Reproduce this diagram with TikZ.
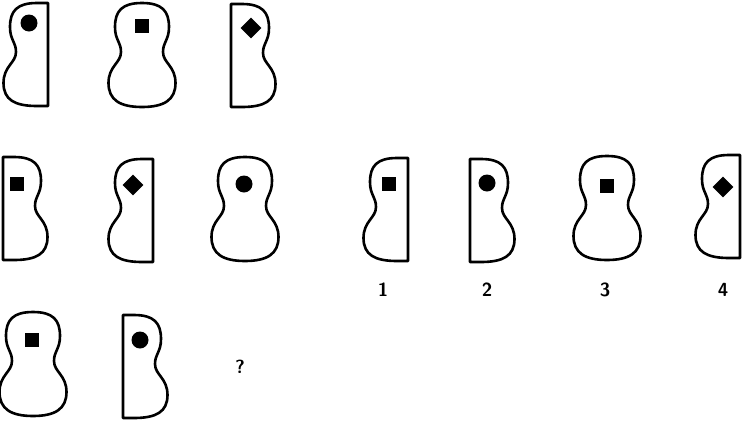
\documentclass[tikz,border=0pt]{standalone}
\usetikzlibrary{shapes.geometric}

\tikzset{
  outline/.style={line width=2.6pt, line join=round},
  dot/.style={circle, fill, inner sep=0pt, minimum size=17pt},
  box/.style={rectangle, fill, inner sep=0pt, minimum size=14pt},
  rhomb/.style={diamond, fill, inner sep=0pt, minimum size=21pt},
  lbl/.style={font=\fontsize{19}{19}\selectfont\sffamily\bfseries, inner sep=0pt},
  gourd/.pic={
    \draw[outline] (0,0) .. controls (20,0) and (27,8) .. (27,24)
      .. controls (27,37) and (21,39) .. (21,49)
      .. controls (21,60) and (33.5,63) .. (33.5,80)
      .. controls (33.5,97) and (22,104) .. (0,104)
      .. controls (-22,104) and (-33.5,97) .. (-33.5,80)
      .. controls (-33.5,63) and (-21,60) .. (-21,49)
      .. controls (-21,39) and (-27,37) .. (-27,24)
      .. controls (-27,8) and (-20,0) .. cycle;
  },
  gourdright/.pic={
    \draw[outline] (-11,0) -- (0,0) .. controls (20,0) and (27,8) .. (27,24)
      .. controls (27,37) and (21,39) .. (21,49)
      .. controls (21,60) and (33.5,63) .. (33.5,80)
      .. controls (33.5,97) and (22,103) .. (0,103) -- (-11,103) -- cycle;
  },
  gourdleft/.pic={
    \draw[outline, xscale=-1] (-11,0) -- (0,0) .. controls (20,0) and (27,8) .. (27,24)
      .. controls (27,37) and (21,39) .. (21,49)
      .. controls (21,60) and (33.5,63) .. (33.5,80)
      .. controls (33.5,97) and (22,103) .. (0,103) -- (-11,103) -- cycle;
  },
}

\begin{document}
\begin{tikzpicture}[x=1pt, y=-1pt]
  \useasboundingbox (0,0) rectangle (745,421);

  % first row
  \pic at (37,3) {gourdleft};
  \pic at (142,3) {gourd};
  \pic at (242,4) {gourdright};
  \node[dot] (a) at (29,23) {};
  \node[box] (b) at (142,26) {};
  \node[rhomb] (c) at (251,28) {};

  % second row
  \pic at (14,157) {gourdright};
  \pic at (142,159) {gourdleft};
  \pic at (245,157) {gourd};
  \node[box] (d) at (17,184) {};
  \node[rhomb] (e) at (133,185) {};
  \node[dot] (f) at (244,184) {};

  % third row
  \pic at (33,312) {gourd};
  \pic at (134,315) {gourdright};
  \node[box] (g) at (32,340) {};
  \node[dot] (h) at (140,340) {};
  \node[lbl] (ask) at (240,367) {?};

  % answers
  \pic at (397,158) {gourdleft};
  \pic at (481,159) {gourdright};
  \pic at (607,156) {gourd};
  \pic at (729,155) {gourdleft};
  \node[box] (ans1) at (389,184) {};
  \node[dot] (ans2) at (487,183) {};
  \node[box] (ans3) at (607,186) {};
  \node[rhomb] (ans4) at (723,187) {};
  \node[lbl] (num1) at (383,290) {1};
  \node[lbl] (num2) at (487,290) {2};
  \node[lbl] (num3) at (605,290) {3};
  \node[lbl] (num4) at (723,290) {4};
\end{tikzpicture}
\end{document}
